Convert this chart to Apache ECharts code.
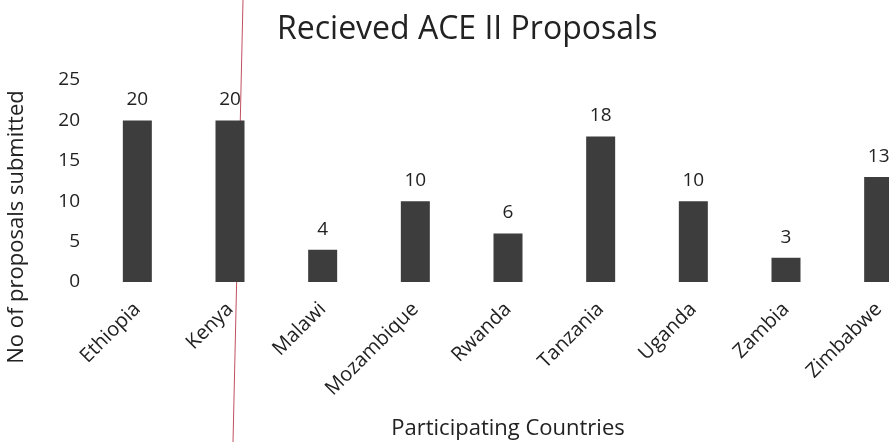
<!DOCTYPE html>
<html>
<head>
<meta charset="utf-8">
<script src="https://cdn.jsdelivr.net/npm/echarts@6/dist/echarts.min.js"></script>
<style>
html,body{margin:0;padding:0;background:#fff;}
#chart{width:889px;height:442px;}
</style>
</head>
<body>
<div id="chart"></div>
<script>
const titleText = 'Recieved ACE II Proposals';
const xAxisName = 'Participating Countries';
const yAxisName = 'No of proposals submitted';
const countries = ['Ethiopia','Kenya','Malawi','Mozambique','Rwanda','Tanzania','Uganda','Zambia','Zimbabwe'];
const proposals = [20, 20, 4, 10, 6, 18, 10, 3, 13];
const yTicks = [0, 5, 10, 15, 20, 25];

const FONT = 'Open Sans';
const chart = echarts.init(document.getElementById('chart'));
chart.setOption({
  animation: false,
  backgroundColor: '#ffffff',
  title: {
    text: titleText,
    left: 272, top: 9,
    textStyle: {fontFamily: FONT, fontSize: 32, fontWeight: 'normal', color: '#222'}
  },
  grid: {left: 91, width: 834, top: 80, height: 202, containLabel: false, outerBoundsMode: 'none'},
  xAxis: {
    type: 'category',
    data: countries,
    name: xAxisName,
    nameLocation: 'middle',
    nameGap: 136,
    nameTextStyle: {fontFamily: FONT, fontSize: 22, color: '#222'},
    axisLine: {show: false},
    axisTick: {show: false},
    axisLabel: {rotate: 45, margin: 24, fontFamily: FONT, fontSize: 20, color: '#222'}
  },
  yAxis: {
    type: 'value',
    min: yTicks[0], max: yTicks[yTicks.length - 1], interval: 5,
    axisLine: {show: false},
    axisTick: {show: false},
    splitLine: {show: false},
    axisLabel: {margin: 11, fontFamily: FONT, fontSize: 19, color: '#222'}
  },
  graphic: [
    {
      type: 'text',
      x: 17, y: 227,
      rotation: Math.PI / 2,
      style: {
        text: yAxisName,
        fontFamily: FONT, fontSize: 22, fill: '#222',
        align: 'center', verticalAlign: 'middle'
      }
    },
    {
      type: 'line',
      shape: {x1: 243, y1: 0, x2: 233, y2: 442},
      style: {stroke: '#c05060', lineWidth: 1}
    }
  ],
  series: [{
    type: 'bar',
    data: proposals,
    barWidth: 29,
    itemStyle: {color: '#3d3d3d'},
    label: {
      show: true, position: 'top', distance: 11,
      fontFamily: FONT, fontSize: 19, color: '#222'
    }
  }]
});
</script>
</body>
</html>
